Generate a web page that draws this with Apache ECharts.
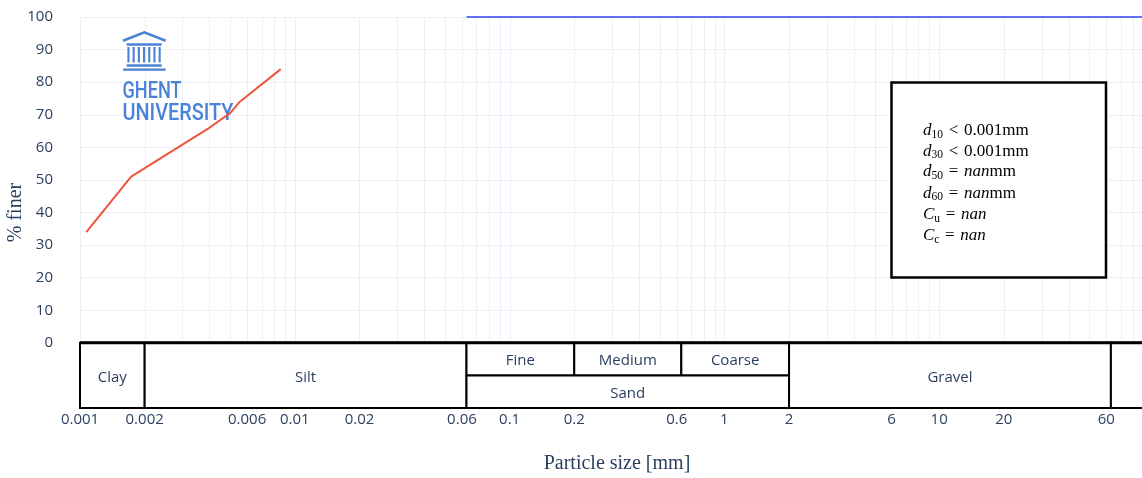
<!DOCTYPE html>
<html><head><meta charset="utf-8">
<script src="https://cdn.jsdelivr.net/npm/echarts@6/dist/echarts.min.js"></script>
<style>html,body{margin:0;padding:0;background:#fff}#c{width:1142px;height:478px}</style>
</head><body><div id="c"></div>
<script>
// ---- data ----
const hydroSize  = [0.00107, 0.00173, 0.0040, 0.0050, 0.00555, 0.0086];
const hydroFiner = [34, 51, 66, 70.5, 74, 84];
const sieveSize  = [0.063, 0.125, 0.25, 0.5, 1, 2, 4, 8, 16, 31.5, 63, 100];
const sieveFiner = [100, 100, 100, 100, 100, 100, 100, 100, 100, 100, 100, 100];
const xTickValues = [0.001, 0.002, 0.006, 0.01, 0.02, 0.06, 0.1, 0.2, 0.6, 1, 2, 6, 10, 20, 60];
const xTickLabels = ['0.001','0.002','0.006','0.01','0.02','0.06','0.1','0.2','0.6','1','2','6','10','20','60'];
// soil classification table cells
const cellNames  = ['Clay', 'Silt', 'Fine', 'Medium', 'Coarse', 'Sand', 'Gravel', ''];
const cellFrom   = [0.001, 0.002, 0.063, 0.2, 0.63, 0.063, 2, 63];
const cellTo     = [0.002, 0.063, 0.2, 0.63, 2, 2, 63, 100];
const cellTop    = [0, 0, 0, 0, 0, -10, 0, 0];
const cellBottom = [-20, -20, -10, -10, -10, -20, -20, -20];
const SP = '\u2004';
const statLines = [
  '{i|d}{s|10}{n|' + SP + '<' + SP + '0.001mm}',
  '{i|d}{s|30}{n|' + SP + '<' + SP + '0.001mm}',
  '{i|d}{s|50}{n|' + SP + '=' + SP + '}{i|nan}{n|mm}',
  '{i|d}{s|60}{n|' + SP + '=' + SP + '}{i|nan}{n|mm}',
  '{i|C}{s|u}{n|' + SP + '=' + SP + '}{i|nan}',
  '{i|C}{s|c}{n|' + SP + '=' + SP + '}{i|nan}'
];

// vertical grid positions (1..9 x 10^k)
const gridValues = [];
for (let k = -3; k <= 1; k++) for (let m = 1; m <= 9; m++) gridValues.push(+(m * Math.pow(10, k)).toPrecision(3));
gridValues.push(100);

const TXT = '#2a3f5f';
const GRID = '#EBF0F8';
const LOGO = '#4a82d6';
const SERIF = '"Liberation Serif", "DejaVu Serif", serif';
const LOGOFONT = '500 23px Roboto, "Open Sans", sans-serif';

function fitScale(text, font, target) {
  const c = document.createElement('canvas').getContext('2d');
  c.font = font;
  return target / c.measureText(text).width;
}

const chart = echarts.init(document.getElementById('c'), null, {renderer: 'canvas'});

const graphics = [];
// logo
graphics.push({type:'polyline', z: 1, shape:{points:[[123,40.8],[144.3,32.3],[165.7,40.8]]}, style:{stroke:LOGO, lineWidth:2.6, fill:null}});
graphics.push({type:'rect', z: 1, shape:{x:126.7, y:43.3, width:35, height:2.4}, style:{fill:LOGO}});
for (let i = 0; i < 7; i++) graphics.push({type:'rect', z: 1, shape:{x:127.4 + i*5.2, y:47, width:2.1, height:15.5}, style:{fill:LOGO}});
graphics.push({type:'rect', z: 1, shape:{x:126.7, y:64.3, width:35, height:2.4}, style:{fill:LOGO}});
graphics.push({type:'rect', z: 1, shape:{x:123, y:68.4, width:42.7, height:2.4}, style:{fill:LOGO}});
graphics.push({type:'text', z: 1, x:122.5, y:92.3, scaleX: fitScale('GHENT', LOGOFONT, 59), style:{text:'GHENT', fill:LOGO, font:LOGOFONT, align:'left', verticalAlign:'middle'}});
graphics.push({type:'text', z: 1, x:122.5, y:114.5, scaleX: fitScale('UNIVERSITY', LOGOFONT, 111), style:{text:'UNIVERSITY', fill:LOGO, font:LOGOFONT, align:'left', verticalAlign:'middle'}});
// stats box
graphics.push({type:'rect', z: 10, shape:{x:891.5, y:82.5, width:214.5, height:195}, style:{fill:'#fff', stroke:'#000', lineWidth:2.5}});
const lineY = [130.7, 151.3, 172, 193.3, 214.5, 235.5];
statLines.forEach((t, i) => {
  graphics.push({type:'text', z: 11, x:923, y:lineY[i], style:{
    text: t, align:'left', verticalAlign:'middle',
    rich: {
      i: {fontFamily: SERIF, fontStyle:'italic', fontSize:17, lineHeight:20, color: TXT},
      n: {fontFamily: SERIF, fontSize:17, lineHeight:20, color: TXT},
      s: {fontFamily: SERIF, fontSize:11.5, lineHeight:13, verticalAlign:'bottom', color: TXT}
    }
  }});
});

const tableData = cellNames.map((n, i) => ({name: n, value: [cellFrom[i], cellTo[i], cellTop[i], cellBottom[i]]}));

chart.setOption({
  animation: false,
  backgroundColor: '#fff',
  grid: {left: 80, top: 17, width: 1074, height: 391, containLabel: false, outerBoundsMode: 'none'},
  xAxis: {
    type: 'log', logBase: 10, min: 0.001, max: 100,
    axisLine: {show: false},
    axisTick: {show: false},
    splitLine: {show: false},
    axisLabel: {
      customValues: xTickValues, margin: 4, color: TXT, fontSize: 15, fontFamily: '"Open Sans", sans-serif',
      formatter: function (v) {
        let best = 0, bd = Infinity;
        xTickValues.forEach((t, i) => { const d = Math.abs(Math.log10(t) - Math.log10(v)); if (d < bd) { bd = d; best = i; } });
        return xTickLabels[best];
      }
    },
    name: 'Particle size [mm]', nameLocation: 'middle', nameGap: 46, nameMoveOverlap: false,
    nameTextStyle: {fontFamily: SERIF, fontSize: 20, color: TXT}
  },
  yAxis: {
    type: 'value', min: -20, max: 100, interval: 10,
    axisLine: {show: false}, axisTick: {show: false},
    splitLine: {show: true, lineStyle: {color: GRID, width: 1}},
    axisLabel: {margin: 27, color: TXT, fontSize: 15, fontFamily: '"Open Sans", sans-serif',
      formatter: v => v < 0 ? '' : String(v)},
    name: '% finer', nameLocation: 'middle', nameGap: 54, nameMoveOverlap: false,
    nameTextStyle: {fontFamily: SERIF, fontSize: 20, color: TXT}
  },
  graphic: graphics,
  series: [
    {type: 'custom', data: gridValues, z: 0, silent: true,
     renderItem: function (params, api) {
       const a = api.coord([api.value(0), 100]);
       const b = api.coord([api.value(0), -20]);
       return {type: 'line', shape: {x1: Math.round(a[0]) + 0.5, y1: a[1], x2: Math.round(a[0]) + 0.5, y2: b[1]},
               style: {stroke: GRID, lineWidth: 1}};
     }},
    {type: 'line', data: hydroSize.map((x, i) => [x, hydroFiner[i]]), symbol: 'none', z: 3,
     lineStyle: {color: '#EF553B', width: 2}},
    {type: 'line', data: sieveSize.map((x, i) => [x, sieveFiner[i]]), symbol: 'none', z: 3,
     lineStyle: {color: '#636EFA', width: 2}},
    {type: 'custom', data: tableData, z: 4, clip: false,
     renderItem: function (params, api) {
       const p0 = api.coord([api.value(0), api.value(2)]);
       const p1 = api.coord([api.value(1), api.value(3)]);
       const name = tableData[params.dataIndex].name;
       const children = [
         {type: 'rect', shape: {x: p0[0], y: p0[1], width: p1[0] - p0[0], height: p1[1] - p0[1]},
          style: {fill: '#fff', stroke: '#000', lineWidth: 2}},
         {type: 'text', x: (p0[0] + p1[0]) / 2, y: (p0[1] + p1[1]) / 2 + 2,
          style: {text: name, fill: TXT, font: '15px "Open Sans", sans-serif', align: 'center', verticalAlign: 'middle'}}
       ];
       if (api.value(2) === 0) {
         children.push({type: 'line', shape: {x1: p0[0], y1: p0[1], x2: p1[0], y2: p0[1]}, style: {stroke: '#000', lineWidth: 3}});
       }
       return {type: 'group', children: children};
     }}
  ]
});
</script></body></html>
